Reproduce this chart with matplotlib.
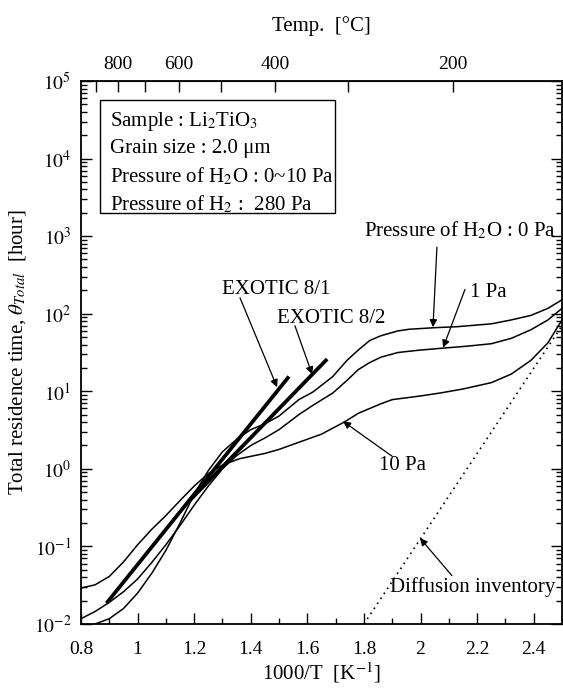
import numpy as np
import matplotlib
matplotlib.use("Agg")
import matplotlib.pyplot as plt
from matplotlib.ticker import MultipleLocator, LogLocator, FuncFormatter, NullFormatter
from matplotlib.patches import Rectangle

plt.rcParams['font.family'] = ['Liberation Serif', 'DejaVu Serif']
plt.rcParams['mathtext.fontset'] = 'stix'

# --- data (1000/T in K^-1, residence time in hours) ---
x_0pa = [0.80, 0.85, 0.90, 0.95, 1.00, 1.05, 1.10, 1.15, 1.20, 1.25, 1.30, 1.35,
         1.40, 1.45, 1.50, 1.57, 1.62, 1.69, 1.74, 1.78, 1.82, 1.86, 1.92, 1.96,
         2.05, 2.13, 2.25, 2.32, 2.39, 2.45, 2.50]
t_0pa = [0.0076, 0.010, 0.0117, 0.0158, 0.025, 0.045, 0.089, 0.20, 0.47, 0.95, 1.66, 2.4,
         3.2, 3.8, 4.8, 7.8, 9.8, 15.5, 25, 34, 45, 52, 60, 63,
         66, 68, 74, 83, 95, 117, 151]

x_1pa = [0.80, 0.85, 0.90, 0.95, 1.00, 1.05, 1.10, 1.15, 1.20, 1.25, 1.30, 1.35,
         1.40, 1.45, 1.50, 1.57, 1.62, 1.69, 1.74, 1.78, 1.82, 1.86, 1.92, 2.00,
         2.08, 2.16, 2.25, 2.32, 2.39, 2.45, 2.50]
t_1pa = [0.0117, 0.0145, 0.019, 0.026, 0.038, 0.062, 0.105, 0.186, 0.34, 0.60, 1.0, 1.48,
         2.0, 2.5, 3.2, 5.0, 6.6, 9.5, 13.8, 19, 23.4, 27.5, 31.6, 34,
         36, 38, 41, 48, 62, 83, 117]

x_10pa = [0.80, 0.85, 0.90, 0.95, 1.00, 1.05, 1.10, 1.15, 1.20, 1.25, 1.30, 1.36,
          1.45, 1.50, 1.57, 1.65, 1.70, 1.73, 1.78, 1.86, 1.90, 2.00, 2.07, 2.15,
          2.25, 2.32, 2.39, 2.45, 2.50]
t_10pa = [0.029, 0.032, 0.041, 0.063, 0.105, 0.166, 0.25, 0.39, 0.60, 0.87, 1.12, 1.35,
          1.58, 1.78, 2.2, 2.8, 3.5, 4.0, 5.2, 6.9, 7.8, 8.7, 9.5, 10.7,
          12.9, 16.6, 25, 42, 83]

x_exotic1 = [0.89, 1.535]
t_exotic1 = [0.0185, 15.5]
x_exotic2 = [1.178, 1.67]
t_exotic2 = [0.37, 26]

x_diff = [1.80, 2.50]
t_diff = [0.01, 70]

temp_ticks = [900, 800, 700, 600, 500, 400, 300, 200]
temp_labels = ['', '800', '', '600', '', '400', '', '200']

# --- figure ---
fig = plt.figure(figsize=(5.63, 6.91), dpi=100)
ax = fig.add_axes([0.1439, 0.0970, 0.8543, 0.7858])

ax.plot(x_0pa, t_0pa, color='k', lw=1.1)
ax.plot(x_1pa, t_1pa, color='k', lw=1.1)
ax.plot(x_10pa, t_10pa, color='k', lw=1.1)
ax.plot(x_exotic1, t_exotic1, color='k', lw=2.7, solid_capstyle='butt')
ax.plot(x_exotic2, t_exotic2, color='k', lw=2.7, solid_capstyle='butt')
ax.plot(x_diff, t_diff, color='k', lw=1.2, linestyle=(0, (1, 2.6)))

ax.set_yscale('log')
ax.set_xlim(0.8, 2.5)
ax.set_ylim(1e-2, 1e5)

ax.xaxis.set_major_locator(MultipleLocator(0.2))
ax.xaxis.set_minor_locator(MultipleLocator(0.1))
ax.xaxis.set_major_formatter(FuncFormatter(lambda v, p: '%g' % round(v, 2)))
ax.yaxis.set_major_locator(LogLocator(base=10, numticks=20))
ax.yaxis.set_minor_locator(LogLocator(base=10, subs=np.arange(2, 10), numticks=20))
ax.yaxis.set_minor_formatter(NullFormatter())
ax.yaxis.set_major_formatter(FuncFormatter(lambda v, p: r'$10^{%d}$' % round(np.log10(v))))

ax.tick_params(axis='both', which='both', direction='in', labelsize=14, width=1.0)
ax.tick_params(axis='x', which='major', length=8, pad=12, top=False)
ax.tick_params(axis='x', which='minor', length=4, top=False)
ax.tick_params(axis='y', which='major', length=8, pad=7, right=True)
ax.tick_params(axis='y', which='minor', length=4, right=True)
for sp in ax.spines.values():
    sp.set_linewidth(1.3)

ax.set_xlabel(r'1000/T  [K$^{-1}$]', fontsize=15, labelpad=2)
ax.set_ylabel(r'Total residence time, $\theta_{Total}$  [hour]', fontsize=15, labelpad=4)

# top temperature axis
top = ax.secondary_xaxis('top', functions=(lambda x: 1000.0 / np.asarray(x, float) - 273.15,
                                           lambda t: 1000.0 / (np.asarray(t, float) + 273.15)))
top.set_xticks(temp_ticks)
top.set_xticklabels(temp_labels)
top.tick_params(direction='in', length=8, width=1.0, labelsize=14, pad=6)
top.set_xlabel(u'Temp.  [\u00b0C]', fontsize=15, labelpad=18)

# condition box
ax.add_patch(Rectangle((0.0395, 0.757), 0.489, 0.208, transform=ax.transAxes,
                       fill=False, lw=1.0, ec='k'))
box_lines = [r'Sample : Li$_2$TiO$_3$',
             u'Grain size : 2.0 \u03bcm',
             r'Pressure of H$_2$O : 0~10 Pa',
             r'Pressure of H$_2$ :  280 Pa']
for i, s in enumerate(box_lines):
    ax.text(0.060, 0.926 - i * 0.051, s, transform=ax.transAxes, fontsize=15,
            va='center', ha='left')

arrow = dict(arrowstyle='-|>', color='k', lw=0.9, mutation_scale=11, shrinkA=0, shrinkB=0)

ax.text(1.298, 204, 'EXOTIC 8/1', fontsize=15, ha='left', va='center')
ax.annotate('', xy=(1.493, 11.3), xytext=(1.362, 160), arrowprops=arrow)
ax.text(1.492, 88, 'EXOTIC 8/2', fontsize=15, ha='left', va='center')
ax.annotate('', xy=(1.617, 16.5), xytext=(1.556, 70), arrowprops=arrow)

ax.text(2.14, 1200, r'Pressure of H$_2$O : 0 Pa', fontsize=15, ha='center', va='center')
ax.annotate('', xy=(2.044, 67), xytext=(2.058, 720), arrowprops=arrow)
ax.text(2.175, 190, '1 Pa', fontsize=15, ha='left', va='center')
ax.annotate('', xy=(2.08, 36.5), xytext=(2.157, 205), arrowprops=arrow)
ax.text(1.935, 1.12, '10 Pa', fontsize=15, ha='center', va='center')
ax.annotate('', xy=(1.726, 4.1), xytext=(1.90, 1.45), arrowprops=arrow)
ax.text(2.185, 0.030, 'Diffusion inventory', fontsize=15, ha='center', va='center')
ax.annotate('', xy=(1.998, 0.128), xytext=(2.111, 0.042), arrowprops=arrow)

fig.savefig('out.png', dpi=100)
